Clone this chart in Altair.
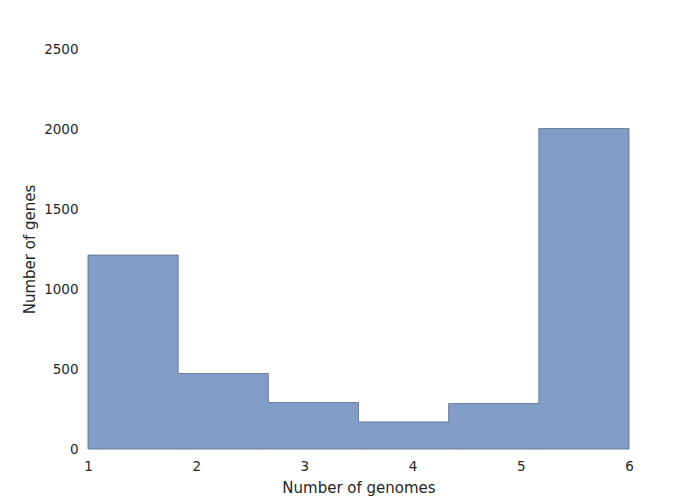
import altair as alt
import pandas as pd

bin_edges = [1.0, 1.8333, 2.6667, 3.5, 4.3333, 5.1667, 6.0]
counts = [1212, 472, 290, 169, 284, 2003]

# step-after area: repeat last value at final edge
df = pd.DataFrame({
    "genomes": bin_edges,
    "genes": counts + [counts[-1]],
})

chart = alt.Chart(df).mark_area(
    interpolate="step-after",
    color="#819dc7",
    fillOpacity=1,
    stroke="#66758c",
    strokeWidth=0.9,
).encode(
    x=alt.X("genomes:Q", title="Number of genomes",
            scale=alt.Scale(domain=[1, 6], nice=False, zero=False),
            axis=alt.Axis(values=[1, 2, 3, 4, 5, 6], format="d", domain=False, ticks=False,
                          grid=False, labelPadding=10, titlePadding=8, labelFlush=False)),
    y=alt.Y("genes:Q", title="Number of genes",
            scale=alt.Scale(domain=[0, 2500], nice=False),
            axis=alt.Axis(values=[0, 500, 1000, 1500, 2000, 2500], format="d", domain=False,
                          ticks=False, grid=False, labelPadding=10, titlePadding=6,
                          labelFlush=False)),
).properties(
    width=541,
    height=400,
    autosize=alt.AutoSizeParams(type="none"),
    padding={"left": 80, "top": 41, "right": 60, "bottom": 50},
).configure_view(
    stroke=None
).configure_axis(
    labelFont="DejaVu Sans",
    titleFont="DejaVu Sans",
    labelFontSize=13.5,
    titleFontSize=15,
    labelColor="#262626",
    titleColor="#262626",
    titleFontWeight="normal",
)

chart.save("out.html", embed_options={"renderer": "svg", "actions": False})
